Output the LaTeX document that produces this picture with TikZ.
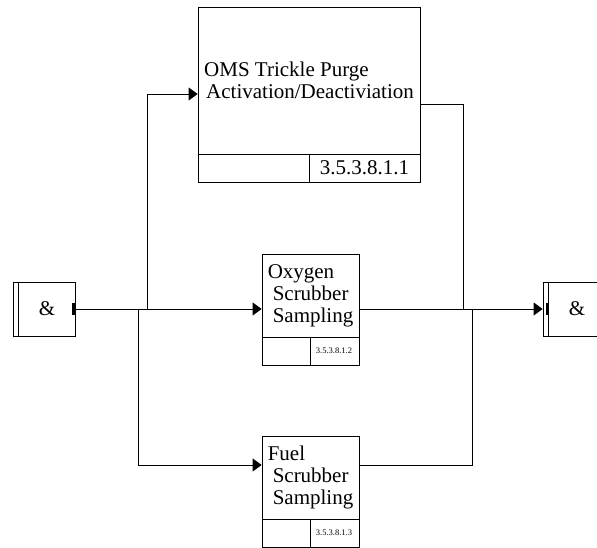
\documentclass[tikz,border=0pt]{standalone}
\usepackage{fontspec}
\setmainfont{Liberation Serif}
\usetikzlibrary{positioning,arrows.meta}

\begin{document}
\begin{tikzpicture}[
  x=1pt, y=1pt,
  font=\fontsize{21}{22}\selectfont,
  line width=0.8pt,
  taskbox/.style={draw, align=left, inner sep=0pt, minimum width=97pt, minimum height=83pt},
  bigbox/.style={taskbox, minimum width=222pt, minimum height=147pt},
  numstrip/.style={draw, inner sep=0pt, minimum height=28pt},
  smallnum/.style={font=\fontsize{8.5}{10}\selectfont},
  andbox/.style={draw, minimum width=62pt, minimum height=54pt, inner sep=0pt},
  tab/.style={fill=black, minimum width=3pt, minimum height=12pt, inner sep=0pt},
  arrow/.style={-{Triangle[length=9pt,width=13pt]}}
]
\clip (0,0) rectangle (597,548);

% task boxes
\node[bigbox] (oms) at (309,467.5) {OMS Trickle Purge\\\hspace{2pt}Activation/Deactiviation};
\node[numstrip, minimum width=222pt, below=0pt of oms] (omsnum) {};
\draw (omsnum.north) -- (omsnum.south);
\node (omsid) at (364.5,380) {3.5.3.8.1.1};

\node[taskbox] (oxy) at (310.5,252.5) {Oxygen\\\hspace{5pt}Scrubber\\\hspace{5pt}Sampling};
\node[numstrip, minimum width=97pt, below=0pt of oxy] (oxynum) {};
\draw (oxynum.north) -- (oxynum.south);
\node[smallnum] (oxyid) at (334,197) {3.5.3.8.1.2};

\node[taskbox] (fuel) at (310.5,70.5) {Fuel\\\hspace{5pt}Scrubber\\\hspace{5pt}Sampling};
\node[numstrip, minimum width=97pt, below=0pt of fuel] (fuelnum) {};
\draw (fuelnum.north) -- (fuelnum.south);
\node[smallnum] (fuelid) at (334,15) {3.5.3.8.1.3};

% junction boxes
\node[andbox] (andin) at (44,239) {\hspace{6pt}\&};
\draw ([xshift=6pt]andin.north west) -- ([xshift=6pt]andin.south west);
\node[tab, anchor=east] (tabin) at (andin.east) {};

\node[andbox] (andout) at (574,239) {\hspace{6pt}\&};
\draw ([xshift=6pt]andout.north west) -- ([xshift=6pt]andout.south west);
\node[tab] (tabout) at ([xshift=4.5pt]andout.west) {};

% connectors
\coordinate (splitup) at (147,239);
\coordinate (splitdn) at (138,239);
\coordinate (joinup) at (463,239);
\coordinate (joindn) at (472,239);

\draw[arrow] (andin.east) -- (oxy.west |- andin);
\draw[arrow] (splitup) |- ([yshift=-13.5pt]oms.west);
\draw[arrow] (splitdn) |- ([yshift=12.5pt]fuel.west);

\draw[arrow] (oxy.east |- andout) -- (andout.west);
\draw ([yshift=-23.5pt]oms.east) -| (joinup);
\draw ([yshift=12.5pt]fuel.east) -| (joindn);
\end{tikzpicture}
\end{document}
